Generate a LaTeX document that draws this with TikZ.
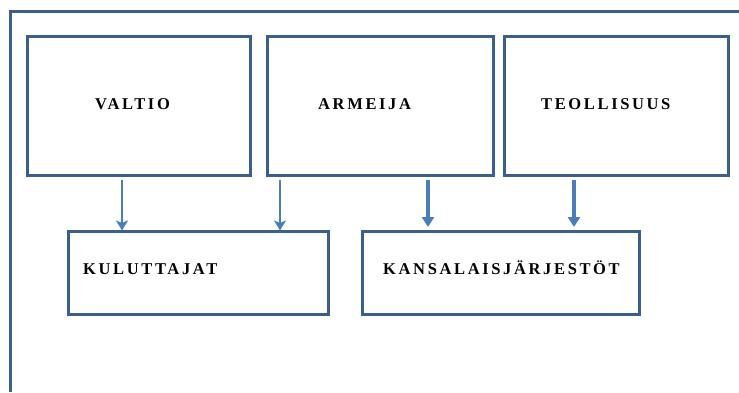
\documentclass[tikz,border=0pt]{standalone}
\usepackage{fontspec}
\newfontfamily\lblfont[LetterSpace=16]{Liberation Serif Bold}
\usetikzlibrary{arrows.meta}
\definecolor{frameblue}{HTML}{3A5F8F}
\definecolor{arrowblue}{HTML}{4A7EBB}
\begin{document}
\begin{tikzpicture}[x=1pt,y=-1pt,
  box/.style={draw=frameblue,line width=3pt,inner sep=0pt},
  lbl/.style={anchor=base west,inner sep=0pt,font=\lblfont\fontsize{16.5}{19}\selectfont},
  thinarrow/.style={draw=arrowblue,line width=2pt,-{Stealth[length=10pt,width=12pt,inset=2.5pt]}},
  thickarrow/.style={draw=arrowblue,line width=3.5pt,-{Triangle[length=10pt,width=12pt]}}]
\useasboundingbox (0,0) rectangle (739,392);
% outer frame, open on the right and at the bottom
\draw[frameblue,line width=3pt] (10,392) -- (10,11) -- (739,11);
% top row
\node[box,minimum width=223pt,minimum height=139pt] (valtio) at (138.5,105.5) {};
\node[box,minimum width=226pt,minimum height=139pt] (armeija) at (380,105.5) {};
\node[box,minimum width=224pt,minimum height=139pt] (teoll) at (616,105.5) {};
% bottom row
\node[box,minimum width=260pt,minimum height=83pt] (kulut) at (198,272.5) {};
\node[box,minimum width=277pt,minimum height=83pt] (kansa) at (500.5,272.5) {};
% labels
\node[lbl] (tvaltio) at (95,109) {VALTIO};
\node[lbl] (tarmeija) at (318,109) {ARMEIJA};
\node[lbl] (tteoll) at (541,109) {TEOLLISUUS};
\node[lbl] (tkulut) at (83,274) {KULUTTAJAT};
\node[lbl] (tkansa) at (383,274) {KANSALAISJÄRJESTÖT};
% connectors
\draw[thinarrow] ([xshift=-16.5pt,yshift=-3.5pt]valtio.south) -- ([xshift=-76pt,yshift=-1pt]kulut.north);
\draw[thinarrow] ([xshift=-100pt,yshift=-3.5pt]armeija.south) -- ([xshift=82pt,yshift=-1pt]kulut.north);
\draw[thickarrow] ([xshift=48pt,yshift=-3.5pt]armeija.south) -- ([xshift=-72.5pt,yshift=2.5pt]kansa.north);
\draw[thickarrow] ([xshift=-42pt,yshift=-3.5pt]teoll.south) -- ([xshift=73.5pt,yshift=2.5pt]kansa.north);
\end{tikzpicture}
\end{document}
